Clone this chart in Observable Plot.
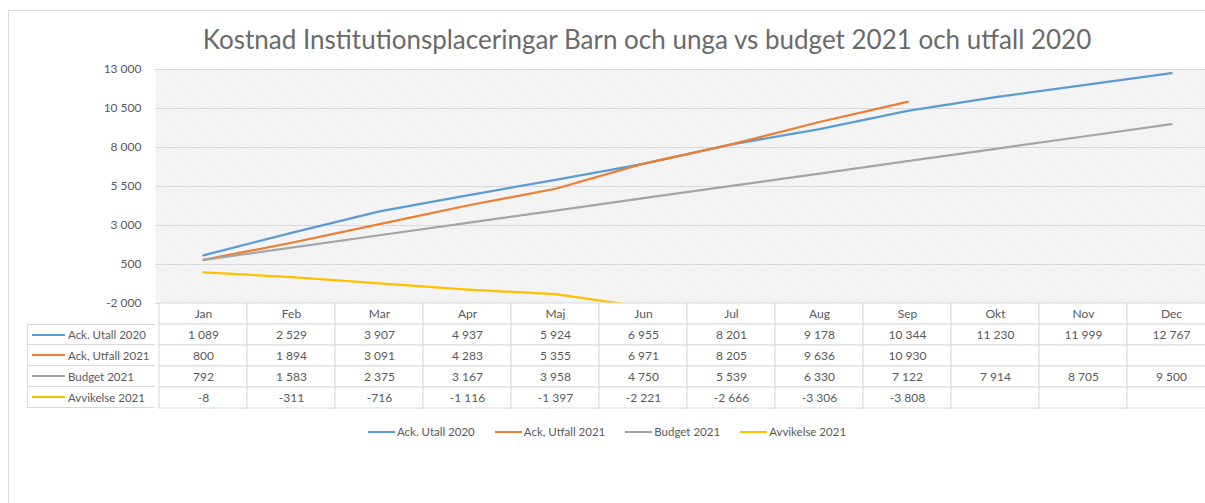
<!DOCTYPE html>
<html>
<head>
<meta charset="utf-8">
<script src="https://cdn.jsdelivr.net/npm/d3@7"></script>
<script src="https://cdn.jsdelivr.net/npm/@observablehq/plot@0.6"></script>
<style>
  html, body { margin: 0; padding: 0; background: #fff; overflow: hidden; }
  #wrap { position: relative; width: 1205px; height: 503px; overflow: hidden; font-family: Lato, "Noto Sans", sans-serif; color: #595959; }
  #border { position: absolute; left: 8px; top: 10px; width: 1400px; height: 700px; border: 1px solid #d9d9d9; }
  #title { position: absolute; left: 0; width: 1294px; top: 26px; line-height: 26px; font-size: 26px; text-align: center; color: #6a6a6a; white-space: nowrap; }
  #chart, #table { position: absolute; left: 0; width: 1219px; }
  #chart { top: 0; }
  #table { top: 303px; }
  #chart svg, #table svg { max-width: none !important; }
  #labels { position: absolute; left: 27px; top: 324px; width: 128px; }
  .lrow { height: 21px; box-sizing: border-box; border: 1px solid #d9d9d9; border-top: none; border-right: none; display: flex; align-items: center; font-size: 11.5px; white-space: nowrap; }
  .lrow:first-child { border-top: 1px solid #d9d9d9; }
  .sw { display: inline-block; width: 33px; height: 2px; margin: 0 3px 0 4px; }
  #legend { position: absolute; left: 0; width: 1214px; top: 425px; display: flex; justify-content: center; gap: 20px; font-size: 11.5px; }
  .litem { display: flex; align-items: center; white-space: nowrap; }
  .litem .sw { width: 27px; margin: 0 2px 0 0; }
</style>
</head>
<body>
<div id="wrap">
  <div id="border"></div>
  <div id="title"></div>
  <div id="chart"></div>
  <div id="table"></div>
  <div id="labels"></div>
  <div id="legend"></div>
</div>
<script>
const titleText = "Kostnad Institutionsplaceringar Barn och unga vs budget 2021 och utfall 2020";
const months = ["Jan","Feb","Mar","Apr","Maj","Jun","Jul","Aug","Sep","Okt","Nov","Dec"];
const seriesNames = ["Ack. Utall 2020", "Ack, Utfall 2021", "Budget 2021", "Avvikelse 2021"];
const seriesColors = ["#5B9BD5", "#ED7D31", "#A5A5A5", "#FFC000"];
const ackUtfall2020 = [1089, 2529, 3907, 4937, 5924, 6955, 8201, 9178, 10344, 11230, 11999, 12767];
const ackUtfall2021 = [800, 1894, 3091, 4283, 5355, 6971, 8205, 9636, 10930, null, null, null];
const budget2021 = [792, 1583, 2375, 3167, 3958, 4750, 5539, 6330, 7122, 7914, 8705, 9500];
const avvikelse2021 = [-8, -311, -716, -1116, -1397, -2221, -2666, -3306, -3808, null, null, null];
const yTicks = [-2000, 500, 3000, 5500, 8000, 10500, 13000];

const seriesValues = [ackUtfall2020, ackUtfall2021, budget2021, avvikelse2021];

const locale = d3.formatLocale({decimal: ",", thousands: "\u00a0", grouping: [3], currency: ["", ""], minus: "-"});
const fmt = locale.format(",d");

// long-format data
const rows = [];
seriesNames.forEach((name, si) => {
  seriesValues[si].forEach((v, mi) => {
    rows.push({series: name, month: months[mi], value: v});
  });
});
const lineRows = rows.filter(d => d.value != null);

document.getElementById("title").textContent = titleText;

const W = 1219;
const fontStyle = {fontFamily: "Lato, 'Noto Sans', sans-serif", fontSize: "12px", color: "#595959", background: "transparent", overflow: "visible", maxWidth: "none"};

const chart = Plot.plot({
  width: W,
  height: 303,
  marginTop: 69,
  marginBottom: 0,
  marginLeft: 155,
  marginRight: 0,
  style: fontStyle,
  x: {type: "point", domain: months, padding: 0.5, axis: null},
  y: {domain: [-2000, 13000], ticks: yTicks, tickFormat: fmt, tickSize: 0, tickPadding: 14, label: null},
  marks: [
    Plot.frame({fill: "url(#hatch)", stroke: "none"}),
    Plot.ruleY(yTicks, {stroke: "#d9d9d9", strokeWidth: 1}),
    ...seriesNames.map((name, si) =>
      Plot.line(lineRows.filter(d => d.series === name), {
        x: "month", y: "value", stroke: seriesColors[si], strokeWidth: 2.25, clip: true
      })
    )
  ]
});

// hatch pattern
const svgSel = d3.select(chart.tagName.toLowerCase() === "svg" ? chart : chart.querySelector("svg"));
const pat = svgSel.insert("defs", ":first-child").append("pattern")
  .attr("id", "hatch").attr("patternUnits", "userSpaceOnUse")
  .attr("width", 3).attr("height", 3);
pat.append("rect").attr("width", 3).attr("height", 3).attr("fill", "#ffffff");
pat.append("path").attr("d", "M-1,-1L4,4M2,-1L4,1M-1,2L1,4")
  .attr("stroke", "#dcdcdc").attr("stroke-width", 1).attr("fill", "none");
document.getElementById("chart").appendChild(chart);

// data table (cells aligned with the chart's month columns)
const tableRowKeys = ["hdr", ...seriesNames];
const cells = [];
months.forEach(m => cells.push({row: "hdr", month: m, label: m}));
rows.forEach(d => cells.push({row: d.series, month: d.month, label: d.value == null ? "" : fmt(d.value)}));

const table = Plot.plot({
  width: W,
  height: 105,
  marginTop: 0,
  marginBottom: 0,
  marginLeft: 155,
  marginRight: 0,
  style: fontStyle,
  x: {type: "band", domain: months, padding: 0, axis: null},
  y: {type: "band", domain: tableRowKeys, padding: 0, axis: null},
  marks: [
    Plot.cell(cells, {x: "month", y: "row", fill: "white", stroke: "#d9d9d9", strokeWidth: 1}),
    Plot.text(cells, {x: "month", y: "row", text: "label", fill: "#595959", fontSize: 12})
  ]
});
document.getElementById("table").appendChild(table);

// row labels with swatches
const labels = document.getElementById("labels");
seriesNames.forEach((name, i) => {
  const r = document.createElement("div");
  r.className = "lrow";
  const sw = document.createElement("span");
  sw.className = "sw"; sw.style.background = seriesColors[i];
  r.appendChild(sw);
  r.appendChild(document.createTextNode(name));
  labels.appendChild(r);
});

// legend
const legend = document.getElementById("legend");
seriesNames.forEach((name, i) => {
  const it = document.createElement("div");
  it.className = "litem";
  const sw = document.createElement("span");
  sw.className = "sw"; sw.style.background = seriesColors[i];
  it.appendChild(sw);
  it.appendChild(document.createTextNode(name));
  legend.appendChild(it);
});
</script>
</body>
</html>
